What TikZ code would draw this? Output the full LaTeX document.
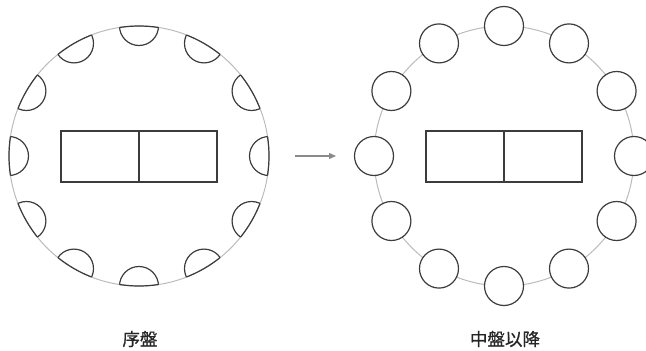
\documentclass[tikz,border=0pt]{standalone}
\usepackage{fontspec}
\newfontfamily\cjk[FakeBold=0.8]{Noto Sans CJK JP}
\usetikzlibrary{calc,arrows.meta}
\definecolor{ringgray}{HTML}{BBBBBB}
\definecolor{ink}{HTML}{3C3C3C}
\definecolor{arrowgray}{HTML}{8A8A8A}
\begin{document}
\begin{tikzpicture}[x=1pt,y=-1pt,
  ring/.style={circle, draw=ringgray, line width=1pt, minimum size=260pt, inner sep=0pt, outer sep=0pt},
  seat/.style={circle, draw=ink, fill=white, line width=1.2pt, minimum size=39pt, inner sep=0pt, outer sep=0pt},
  halfseat/.style={draw=ink, line width=1.2pt},
  tablehalf/.style={rectangle, draw=ink, line width=1.2pt, minimum width=78pt, minimum height=51pt, inner sep=0pt, outer sep=0pt},
  lbl/.style={font=\cjk\fontsize{17.5}{17.5}\selectfont, text=black!85},
  flow/.style={draw=arrowgray, line width=1.2pt, -{Triangle[length=7pt,width=6pt]}}]
\useasboundingbox (0,0) rectangle (646,351);
% left: opening
\node[ring] (L) at (139,156) {};
\begin{scope}
  \clip (139,156) circle (130);
  \foreach \a in {0,30,...,330}
    \draw[halfseat] ($(L.center)+(\a:130)$) circle (19.5);
\end{scope}
\foreach \a in {0,30,...,330}
  \draw[halfseat] ($(L.center)+(\a-8.6:130)$) arc[start angle=\a-8.6, end angle=\a+8.6, radius=130];
\node[tablehalf] (LT1) at (100,156.5) {};
\node[tablehalf] (LT2) at (178,156.5) {};
% right: middle game onward
\node[ring] (R) at (504,156) {};
\foreach \a in {0,30,...,330}
  \node[seat] (s\a) at ($(R.center)+(\a:130)$) {};
\node[tablehalf] (RT1) at (465,156.5) {};
\node[tablehalf] (RT2) at (543,156.5) {};
% arrow
\coordinate (a1) at (295,156);
\coordinate (a2) at (336,156);
\draw[flow] (a1) -- (a2);
% labels
\node[lbl] (t1) at (140,339) {序盤};
\node[lbl] (t2) at (505,339) {中盤以降};
\end{tikzpicture}
\end{document}
